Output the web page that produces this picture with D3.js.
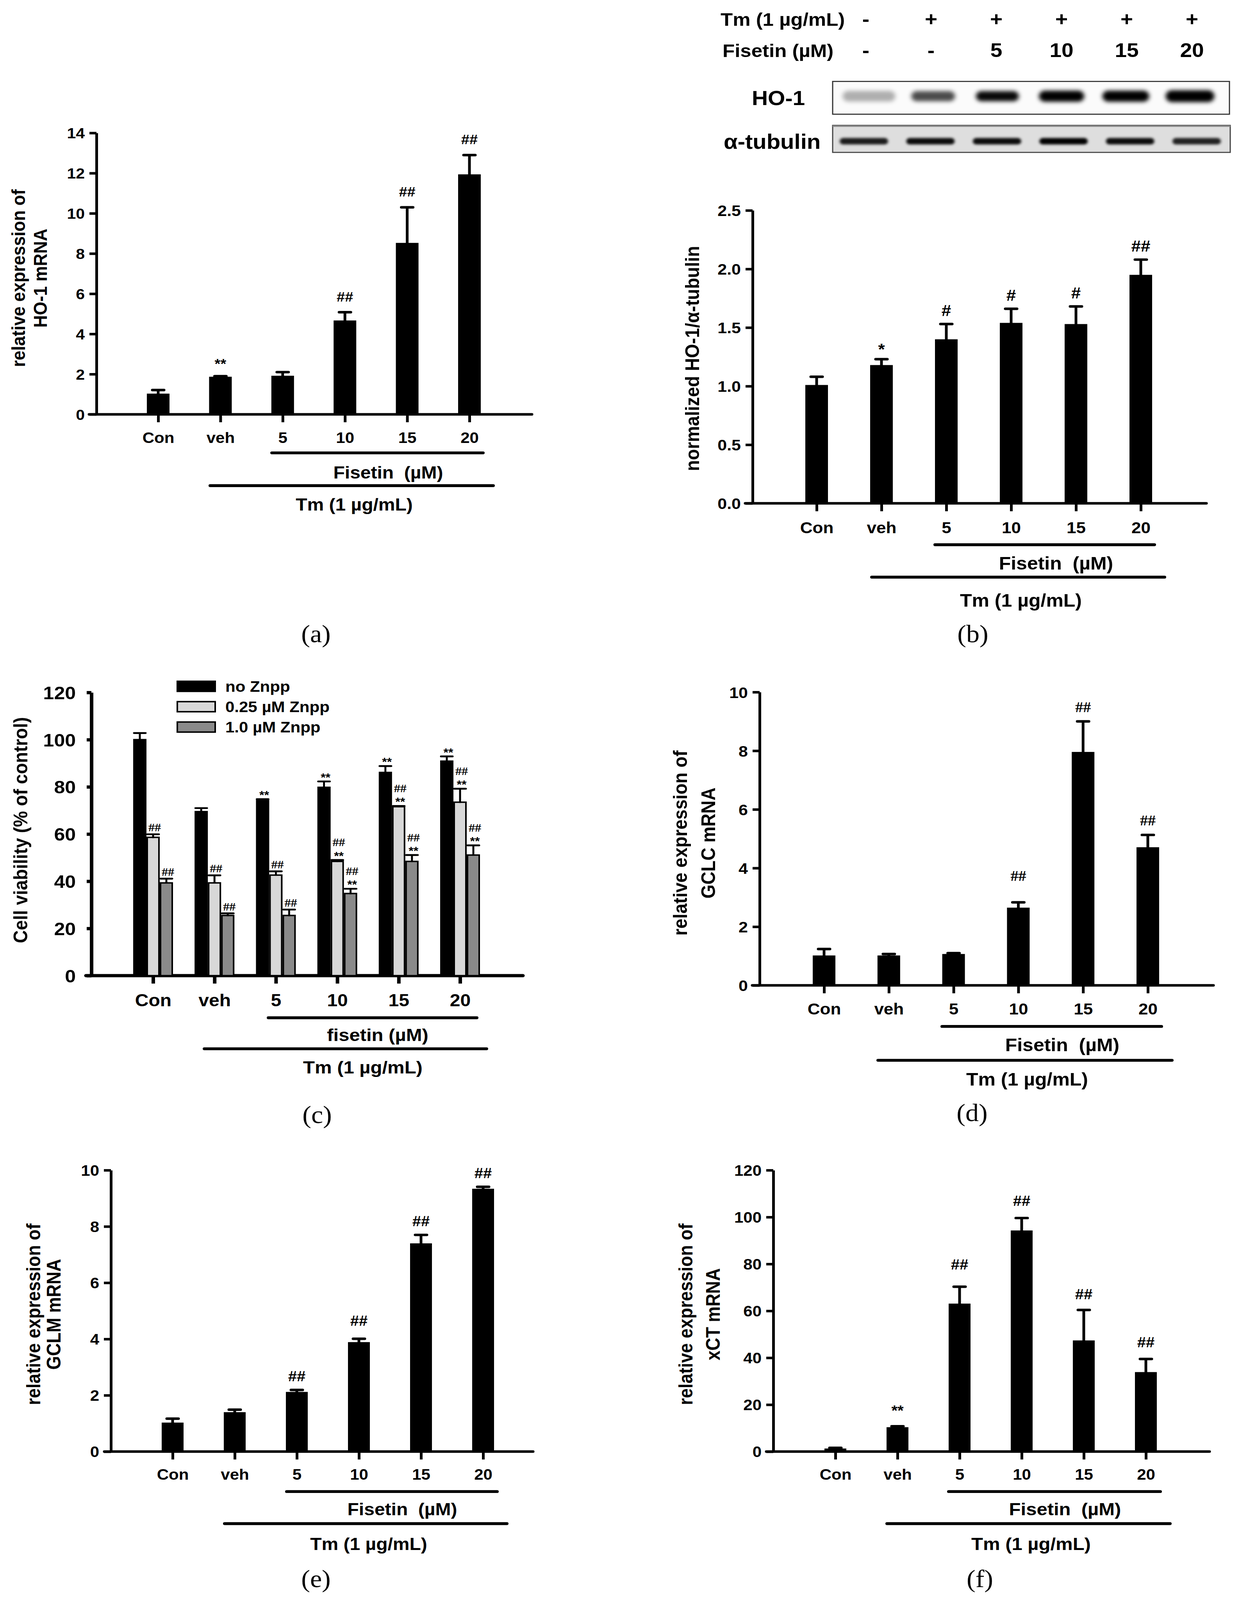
<!DOCTYPE html>
<html><head><meta charset="utf-8">
<script src="https://cdn.jsdelivr.net/npm/d3@7"></script>
<style>
html,body{margin:0;padding:0;background:#fff;overflow:hidden;}
svg{display:block;background:#fff;width:100vw;height:100vh;}
text{font-family:"Liberation Sans",Arial,Helvetica,sans-serif;font-weight:bold;fill:#000;}
text.plab{font-family:"Liberation Serif","Times New Roman",serif;font-weight:normal;}
text.hash{font-family:"Liberation Serif","Times New Roman",serif;font-weight:bold;}
</style></head><body>
<svg id="fig" viewBox="0 0 3175 4441" preserveAspectRatio="none"></svg>
<script>
// ---------------- DATA ----------------
const categories = ["Con", "veh", "5", "10", "15", "20"];

const ho1MrnaMean = [1.03, 1.87, 1.92, 4.67, 8.53, 11.94];
const ho1MrnaErr  = [0.18, 0.03, 0.18, 0.41, 1.77, 0.96];
const ho1MrnaSig  = ["", "**", "", "##", "##", "##"];
const ho1MrnaTicks = [0, 2, 4, 6, 8, 10, 12, 14];

const ho1ProtMean = [1.01, 1.18, 1.40, 1.54, 1.53, 1.95];
const ho1ProtErr  = [0.07, 0.05, 0.13, 0.12, 0.15, 0.13];
const ho1ProtSig  = ["", "*", "#", "#", "#", "##"];
const ho1ProtTicks = [0, 0.5, 1.0, 1.5, 2.0, 2.5];

const znppSeries = ["no Znpp", "0.25 \u00B5M Znpp", "1.0 \u00B5M Znpp"];
const viabNoZnpp      = [100.0, 69.5, 74.5, 79.8, 86.1, 90.9];
const viabNoZnppErr   = [2.8, 1.5, 0.3, 2.5, 2.7, 2.0];
const viabNoZnppSig   = ["", "", "**", "**", "**", "**"];
const viabLowZnpp     = [58.6, 39.3, 42.6, 48.4, 71.6, 73.5];
const viabLowZnppErr  = [1.3, 3.2, 1.6, 0.6, 0.3, 5.7];
const viabLowZnppSig  = ["##", "##", "##", "##|**", "##|**", "##|**"];
const viabHighZnpp    = [39.3, 25.5, 25.5, 34.8, 48.4, 51.1];
const viabHighZnppErr = [1.8, 0.9, 2.5, 2.0, 2.7, 4.1];
const viabHighZnppSig = ["##", "##", "##", "##|**", "##|**", "##|**"];
const viabTicks = [0, 20, 40, 60, 80, 100, 120];

const gclcMean = [1.02, 1.02, 1.07, 2.65, 7.96, 4.71];
const gclcErr  = [0.22, 0.05, 0.03, 0.18, 1.04, 0.42];
const gclcSig  = ["", "", "", "##", "##", "##"];
const gclcTicks = [0, 2, 4, 6, 8, 10];

const gclmMean = [1.03, 1.40, 2.12, 3.89, 7.40, 9.34];
const gclmErr  = [0.14, 0.09, 0.07, 0.12, 0.30, 0.07];
const gclmSig  = ["", "", "##", "##", "##", "##"];
const gclmTicks = [0, 2, 4, 6, 8, 10];

const xctMean = [1.3, 10.4, 63.1, 94.3, 47.4, 33.9];
const xctErr  = [0.3, 0.4, 7.2, 5.3, 13.0, 5.6];
const xctSig  = ["", "**", "##", "##", "##", "##"];
const xctTicks = [0, 20, 40, 60, 80, 100, 120];

// western blot
const blotTmRow  = ["-", "+", "+", "+", "+", "+"];
const blotFisRow = ["-", "-", "5", "10", "15", "20"];
const ho1BandDensity = [0.30, 0.70, 0.97, 1, 1, 1];
const ho1BandWidth   = [135, 112, 110, 116, 120, 125];
const ho1BandHeight  = [30, 28, 28, 31, 31, 33];
const tubBandDensity = [0.88, 0.95, 0.95, 1, 0.95, 0.85];

// ---------------- DRAW ----------------
const svg = d3.select("#fig");
const defs = svg.append("defs");
defs.append("filter").attr("id", "blur").attr("x", "-50%").attr("y", "-80%").attr("width", "200%").attr("height", "260%")
  .append("feGaussianBlur").attr("stdDeviation", 6);
defs.append("filter").attr("id", "blur2").attr("x", "-50%").attr("y", "-80%").attr("width", "200%").attr("height", "260%")
  .append("feGaussianBlur").attr("stdDeviation", 3.5);

function rotText(g, x, y, text, size) {
  g.append("text").attr("transform", `translate(${x},${y}) rotate(-90)`)
    .attr("text-anchor", "middle").attr("dy", "0.35em")
    .style("font-size", size + "px").text(text);
}

function sigText(g, cx, topY, s, size, lift, cls) {
  const parts = s.split("|").reverse(); // bottom first
  let base = topY - lift;
  parts.forEach(p => {
    const isStar = p.indexOf("*") >= 0;
    const b = isStar ? base + 0.22 * size : base;
    g.append("text").attr("class", isStar ? null : (cls || null)).attr("x", cx).attr("y", b)
      .attr("text-anchor", "middle").style("font-size", size + "px").text(p);
    base -= size * 0.95;
  });
}

function drawPanel(cfg) {
  const g = svg.append("g");
  const y = d3.scaleLinear().domain([0, cfg.ymax]).range([cfg.y0, cfg.yTop]);
  const x = d3.scalePoint().domain(categories).range([cfg.c0, cfg.c5]);
  const sw = cfg.axisW || 7;

  const ya = g.append("g").attr("transform", `translate(${cfg.axisX},0)`)
    .call(d3.axisLeft(y).tickValues(cfg.ticks).tickSize(cfg.tickLen || 18).tickSizeOuter(0)
      .tickPadding(cfg.tickPad || 12).tickFormat(cfg.fmt || d3.format("d")));
  ya.select(".domain").attr("stroke", "#000").attr("stroke-width", sw);
  ya.selectAll(".tick line").attr("stroke", "#000").attr("stroke-width", sw);
  ya.selectAll(".tick text").style("font-size", cfg.tickFont + "px").attr("dy", "0.36em");

  g.append("line").attr("x1", cfg.xStart).attr("x2", cfg.xEnd).attr("y1", cfg.y0).attr("y2", cfg.y0)
    .attr("stroke", "#000").attr("stroke-width", sw).attr("stroke-linecap", "round");
  const xa = g.append("g").attr("transform", `translate(0,${cfg.y0})`)
    .call(d3.axisBottom(x).tickSize(22).tickSizeOuter(0).tickPadding(cfg.catY - cfg.y0 - 22 - 0.72 * cfg.catFont));
  xa.select(".domain").remove();
  xa.selectAll(".tick line").attr("stroke", "#000").attr("stroke-width", sw);
  xa.selectAll(".tick text").style("font-size", cfg.catFont + "px").attr("dy", "0.72em");

  cfg.series.forEach((s, si) => {
    const off = cfg.series.length > 1 ? (si - (cfg.series.length - 1) / 2) * cfg.barW : 0;
    const bw = cfg.series.length > 1 ? cfg.barW - (cfg.outline || 0) : cfg.barW;
    const rows = categories.map((c, i) => ({c, i, v: s.values[i], e: s.errors[i], sig: s.sig[i]}));
    const bg = g.append("g");
    bg.selectAll("rect.bar").data(rows).join("rect").attr("class", "bar")
      .attr("x", d => x(d.c) + off - bw / 2).attr("width", bw)
      .attr("y", d => y(d.v)).attr("height", d => cfg.y0 - y(d.v))
      .attr("fill", s.fill).attr("stroke", cfg.outline ? "#000" : "none").attr("stroke-width", cfg.outline || 0);
    const ew = cfg.errW || 7;
    bg.selectAll("line.err").data(rows).join("line").attr("class", "err")
      .attr("x1", d => x(d.c) + off).attr("x2", d => x(d.c) + off)
      .attr("y1", d => y(d.v) + 2).attr("y2", d => y(d.v + d.e))
      .attr("stroke", "#000").attr("stroke-width", ew);
    bg.selectAll("line.cap").data(rows).join("line").attr("class", "cap")
      .attr("x1", d => x(d.c) + off - cfg.capW / 2).attr("x2", d => x(d.c) + off + cfg.capW / 2)
      .attr("y1", d => y(d.v + d.e)).attr("y2", d => y(d.v + d.e))
      .attr("stroke", "#000").attr("stroke-width", ew).attr("stroke-linecap", "round");
    rows.forEach(d => {
      const extra = cfg.sigExtra ? cfg.sigExtra[d.i] : 0;
      if (d.sig) sigText(g, x(d.c) + off + (cfg.sigDx || 0), y(d.v + d.e), d.sig, cfg.sigFont, cfg.sigLift + extra, cfg.sigClass);
    });
  });

  const f = cfg.fis, t = cfg.tm;
  g.append("line").attr("x1", f[0]).attr("x2", f[1]).attr("y1", f[2]).attr("y2", f[2])
    .attr("stroke", "#000").attr("stroke-width", 8).attr("stroke-linecap", "round");
  g.append("text").attr("x", cfg.fisText[0]).attr("y", cfg.fisText[1]).attr("text-anchor", "middle")
    .style("font-size", cfg.brFont + "px").style("white-space", "pre").text(cfg.fisLabel || "Fisetin  (\u00B5M)");
  g.append("line").attr("x1", t[0]).attr("x2", t[1]).attr("y1", t[2]).attr("y2", t[2])
    .attr("stroke", "#000").attr("stroke-width", 8).attr("stroke-linecap", "round");
  g.append("text").attr("x", cfg.tmText[0]).attr("y", cfg.tmText[1]).attr("text-anchor", "middle")
    .style("font-size", cfg.brFont + "px").text("Tm (1 \u00B5g/mL)");

  cfg.title.forEach(tl => rotText(g, tl[0], cfg.titleY, tl[1], cfg.titleFont));
  g.append("text").attr("class", "plab").attr("x", cfg.label[0]).attr("y", cfg.label[1])
    .attr("text-anchor", "middle").style("font-size", "68px").text(cfg.label[2]);
  return g;
}

// (a)
drawPanel({
  ymax: 14, ticks: ho1MrnaTicks, axisX: 247, yTop: 369, y0: 1150, xStart: 228, xEnd: 1362,
  c0: 405, c5: 1202, barW: 58, capW: 30, tickFont: 41, catFont: 42, catY: 1229,
  series: [{values: ho1MrnaMean, errors: ho1MrnaErr, sig: ho1MrnaSig, fill: "#000"}],
  sigFont: 38, sigLift: 30,
  fis: [696, 1237, 1257], fisText: [994, 1328], tm: [538, 1263, 1348], tmText: [907, 1417], brFont: 48,
  title: [[47, "relative expression of"], [103, "HO-1 mRNA"]], titleY: 772, titleFont: 48,
  label: [809, 1783, "(a)"]
});

// (b)
drawPanel({
  ymax: 2.5, ticks: ho1ProtTicks, fmt: d3.format(".1f"), axisX: 1927, yTop: 584, y0: 1397, xStart: 1908, xEnd: 3089,
  c0: 2091, c5: 2921, barW: 58, capW: 30, tickFont: 43, catFont: 44, catY: 1480,
  series: [{values: ho1ProtMean, errors: ho1ProtErr, sig: ho1ProtSig, fill: "#000"}],
  sigFont: 44, sigLift: 22,
  fis: [2394, 2956, 1512], fisText: [2704, 1581], tm: [2232, 2982, 1602], tmText: [2614, 1684], brFont: 50,
  title: [[1772, "normalized HO-1/\u03B1-tubulin"]], titleY: 995, titleFont: 50,
  label: [2491, 1783, "(b)"]
});

// (c)
const gc = drawPanel({
  ymax: 120, ticks: viabTicks, axisX: 234, axisW: 9, tickLen: 12, tickPad: 28, yTop: 1922, y0: 2708, xStart: 220, xEnd: 1339,
  c0: 392, c5: 1178, barW: 34, capW: 30, errW: 5, outline: 4, tickFont: 50, catFont: 48, catY: 2793,
  series: [
    {values: viabNoZnpp, errors: viabNoZnppErr, sig: viabNoZnppSig, fill: "#000"},
    {values: viabLowZnpp, errors: viabLowZnppErr, sig: viabLowZnppSig, fill: "#d8d8d8"},
    {values: viabHighZnpp, errors: viabHighZnppErr, sig: viabHighZnppSig, fill: "#8a8a8a"}
  ],
  sigFont: 32, sigLift: 8, sigDx: 4, sigClass: "hash",
  fis: [687, 1221, 2825], fisText: [967, 2889], fisLabel: "fisetin (\u00B5M)", tm: [523, 1246, 2911], tmText: [929, 2980], brFont: 49,
  title: [[52, "Cell viability (% of control)"]], titleY: 2304, titleFont: 50,
  label: [812, 3117, "(c)"]
});
const legFills = ["#000", "#d8d8d8", "#8a8a8a"];
const legY = d3.scalePoint().domain(znppSeries).range([1905, 2018]);
znppSeries.forEach((s, i) => {
  gc.append("rect").attr("x", 454).attr("y", legY(s) - 14).attr("width", 97).attr("height", 28)
    .attr("fill", legFills[i]).attr("stroke", "#000").attr("stroke-width", 4);
  gc.append("text").attr("x", 577).attr("y", legY(s)).attr("dy", "0.36em").style("font-size", "42px").text(s);
});

// (d)
drawPanel({
  ymax: 10, ticks: gclcTicks, axisX: 1945, yTop: 1921, y0: 2735, xStart: 1926, xEnd: 3107,
  c0: 2110, c5: 2939, barW: 58, capW: 30, tickFont: 43, catFont: 44, catY: 2816,
  series: [{values: gclcMean, errors: gclcErr, sig: gclcSig, fill: "#000"}],
  sigFont: 40, sigLift: 26, sigClass: "hash", sigExtra: [0, 0, 0, 34, 0, 0],
  fis: [2412, 2974, 2849], fisText: [2720, 2918], tm: [2248, 3001, 2943], tmText: [2630, 3013], brFont: 50,
  title: [[1741, "relative expression of"], [1813, "GCLC mRNA"]], titleY: 2340, titleFont: 50,
  label: [2489, 3112, "(d)"]
});

// (e)
drawPanel({
  ymax: 10, ticks: gclmTicks, axisX: 284, yTop: 3248, y0: 4029, xStart: 267, xEnd: 1365,
  c0: 442, c5: 1237, barW: 56, capW: 30, tickFont: 42, catFont: 42, catY: 4107,
  series: [{values: gclmMean, errors: gclmErr, sig: gclmSig, fill: "#000"}],
  sigFont: 40, sigLift: 24, sigExtra: [0, 0, 0, 12, 0, 0],
  fis: [734, 1273, 4140], fisText: [1030, 4206], tm: [575, 1298, 4229], tmText: [944, 4302], brFont: 48,
  title: [[86, "relative expression of"], [138, "GCLM mRNA"]], titleY: 3648, titleFont: 49,
  label: [809, 4405, "(e)"]
});

// (f)
drawPanel({
  ymax: 120, ticks: xctTicks, axisX: 1980, yTop: 3248, y0: 4029, xStart: 1962, xEnd: 3097,
  c0: 2139, c5: 2934, barW: 56, capW: 30, tickFont: 42, catFont: 42, catY: 4107,
  series: [{values: xctMean, errors: xctErr, sig: xctSig, fill: "#000"}],
  sigFont: 40, sigLift: 30, sigExtra: [0, 8, 18, 4, 0, 2],
  fis: [2429, 2971, 4140], fisText: [2727, 4206], tm: [2271, 2996, 4229], tmText: [2640, 4302], brFont: 49,
  title: [[1756, "relative expression of"], [1826, "xCT mRNA"]], titleY: 3648, titleFont: 49,
  label: [2509, 4405, "(f)"]
});

// ---- western blot (b, top) ----
const blot = svg.append("g");
const lane = d3.scalePoint().domain(d3.range(6)).range([2217, 3052]);
blot.append("text").attr("x", 1845).attr("y", 72).style("font-size", "51px").text("Tm (1 \u00B5g/mL)");
blot.append("text").attr("x", 1850).attr("y", 158).style("font-size", "51px").text("Fisetin (\u00B5M)");
blotTmRow.forEach((s, i) => {
  blot.append("text").attr("x", lane(i)).attr("y", 72).attr("text-anchor", "middle").style("font-size", "55px").text(s);
});
blotFisRow.forEach((s, i) => {
  blot.append("text").attr("x", lane(i)).attr("y", 158).attr("text-anchor", "middle").style("font-size", "55px").text(s);
});
const hoBox = {x: 2132, y: 226, w: 1016, h: 91};
blot.append("rect").attr("x", hoBox.x).attr("y", hoBox.y).attr("width", hoBox.w).attr("height", hoBox.h)
  .attr("fill", "#fbfbfb").attr("stroke", "#333").attr("stroke-width", 3);
const bandLane = d3.scalePoint().domain(d3.range(6)).range([2225, 3047]);
const hoBands = blot.append("g").attr("filter", "url(#blur)");
ho1BandDensity.forEach((dens, i) => {
  const w = ho1BandWidth[i], h = ho1BandHeight[i];
  hoBands.append("rect").attr("x", bandLane(i) - w / 2).attr("y", hoBox.y + 41 - h / 2)
    .attr("width", w).attr("height", h).attr("rx", h / 2)
    .attr("fill", "#000").attr("opacity", dens);
});
blot.append("text").attr("x", 1993).attr("y", 292).attr("text-anchor", "middle").style("font-size", "57px").text("HO-1");
const tbBox = {x: 2132, y: 348, w: 1018, h: 75};
blot.append("rect").attr("x", tbBox.x).attr("y", tbBox.y).attr("width", tbBox.w).attr("height", tbBox.h)
  .attr("fill", "#dedede").attr("stroke", "#444").attr("stroke-width", 3);
blot.append("line").attr("x1", tbBox.x).attr("x2", tbBox.x + tbBox.w).attr("y1", tbBox.y + 2).attr("y2", tbBox.y + 2)
  .attr("stroke", "#888").attr("stroke-width", 4);
const tubLane = d3.scalePoint().domain(d3.range(6)).range([2212, 3064]);
const tbBands = blot.append("g").attr("filter", "url(#blur2)");
tubBandDensity.forEach((dens, i) => {
  tbBands.append("rect").attr("x", tubLane(i) - 62).attr("y", tbBox.y + 44 - 9)
    .attr("width", 124).attr("height", 18).attr("rx", 9).attr("fill", "#000").attr("opacity", dens);
});
blot.append("text").attr("x", 1853).attr("y", 413).style("font-size", "58px").text("\u03B1-tubulin");
</script>
</body></html>
